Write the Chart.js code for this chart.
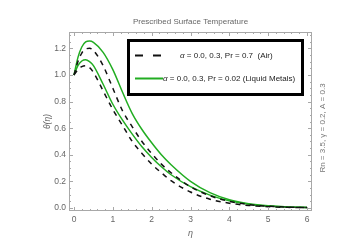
<!DOCTYPE html>
<html><head><meta charset="utf-8">
<script src="https://cdn.jsdelivr.net/npm/chart.js@4/dist/chart.umd.min.js"></script>
<style>html,body{margin:0;padding:0;background:#fff;}#wrap{width:362px;height:242px;}</style>
</head><body><div id="wrap"><canvas id="c" width="362" height="242"></canvas></div>
<script>
// ---- data ----
const eta = [0,0.1,0.2,0.3,0.4,0.5,0.75,1.0,1.25,1.5,1.75,2.0,2.25,2.5,3.0,3.5,4.0,4.5,5.0,5.5,6.0];
// Pr = 0.7 (Air), alpha = 0.0 and 0.3
const airLow  = [1.0,1.04,1.063,1.07,1.055,1.02,0.88,0.74,0.62,0.50,0.41,0.33,0.265,0.205,0.12,0.066,0.036,0.019,0.010,0.005,0.003];
const airHigh = [1.0,1.10,1.165,1.195,1.20,1.185,1.07,0.90,0.73,0.61,0.50,0.41,0.33,0.265,0.16,0.092,0.050,0.026,0.013,0.007,0.003];
// Pr = 0.02 (Liquid metals), alpha = 0.0 and 0.3
const lmLow   = [1.0,1.07,1.105,1.115,1.10,1.07,0.93,0.78,0.66,0.555,0.46,0.38,0.31,0.25,0.16,0.097,0.054,0.029,0.015,0.008,0.004];
const lmHigh  = [1.0,1.13,1.21,1.248,1.255,1.245,1.17,1.04,0.87,0.71,0.59,0.49,0.40,0.325,0.20,0.115,0.062,0.032,0.016,0.008,0.004];
const xTicks = [0,1,2,3,4,5,6];
const yTicks = [0,0.2,0.4,0.6,0.8,1.0,1.2];
const titleText = 'Prescribed Surface Temperature';
const legendAir = ['α', ' = 0.0, 0.3, Pr = 0.7  (Air)'];
const legendLM = ['α', ' = 0.0, 0.3, Pr = 0.02 (Liquid Metals)'];
const sideText = 'Rn = 3.5, γ = 0.2, A = 0.3';

const FONT = "'Liberation Sans',Arial,sans-serif";
const GREEN = '#22ad22';
const pts = arr => eta.map((e,i)=>({x:e,y:arr[i]}));

const decor = {
  id:'decor',
  afterDraw(chart){
    const ctx = chart.ctx, a = chart.chartArea;
    const xs = chart.scales.x, ys = chart.scales.y;
    ctx.save();
    // title
    ctx.fillStyle = '#666'; ctx.textAlign = 'center'; ctx.textBaseline = 'middle';
    ctx.font = '8px ' + FONT;
    ctx.fillText(titleText, (a.left + a.right)/2, 22);
    // frame
    ctx.strokeStyle = '#a8a8a8'; ctx.lineWidth = 1;
    ctx.strokeRect(Math.round(a.left)+0.5, Math.round(a.top)+0.5, Math.round(a.right-a.left)-1, Math.round(a.bottom-a.top)-1);
    // ticks (inward)
    ctx.beginPath();
    for (let v=0; v<=6.0001; v+=0.2){
      const p = Math.round(xs.getPixelForValue(v))+0.5;
      const L = Math.abs(v-Math.round(v))<1e-6 ? 4 : 2;
      ctx.moveTo(p, a.bottom); ctx.lineTo(p, a.bottom-L);
      ctx.moveTo(p, a.top); ctx.lineTo(p, a.top+L);
    }
    for (let v=0; v<=1.30001; v+=0.05){
      const p = Math.round(ys.getPixelForValue(v))+0.5;
      const L = Math.abs(v*5-Math.round(v*5))<1e-6 ? 4 : 2;
      ctx.moveTo(a.left, p); ctx.lineTo(a.left+L, p);
      ctx.moveTo(a.right, p); ctx.lineTo(a.right-L, p);
    }
    ctx.stroke();
    // legend box
    ctx.fillStyle = '#fff';
    ctx.fillRect(128.5, 40.5, 174, 54);
    ctx.strokeStyle = '#000'; ctx.lineWidth = 3;
    ctx.strokeRect(128.5, 40.5, 174, 54);
    // legend samples
    ctx.lineWidth = 2;
    ctx.strokeStyle = '#111'; ctx.setLineDash([8,10]);
    ctx.beginPath(); ctx.moveTo(135, 55.5); ctx.lineTo(163, 55.5); ctx.stroke();
    ctx.setLineDash([]);
    ctx.strokeStyle = GREEN;
    ctx.beginPath(); ctx.moveTo(135, 78.5); ctx.lineTo(163, 78.5); ctx.stroke();
    // legend texts
    ctx.fillStyle = '#222'; ctx.textBaseline = 'middle'; ctx.textAlign = 'left';
    const drawEntry = (parts, x, y) => {
      ctx.font = 'italic 8px ' + FONT;
      ctx.fillText(parts[0], x, y);
      const w = ctx.measureText(parts[0]).width;
      ctx.font = '8px ' + FONT;
      ctx.fillText(parts[1], x + w, y);
    };
    drawEntry(legendAir, 180, 56);
    drawEntry(legendLM, 163, 79);
    // side annotation
    ctx.translate(323, 128);
    ctx.rotate(-Math.PI/2);
    ctx.fillStyle = '#777'; ctx.textAlign = 'center';
    ctx.font = '8px ' + FONT;
    ctx.fillText(sideText, 0, 0);
    ctx.restore();
  }
};

const dsBase = {pointRadius:0, fill:false, cubicInterpolationMode:'monotone', borderWidth:1.5};
new Chart(document.getElementById('c'), {
  type:'line',
  data:{datasets:[
    Object.assign({label:'air α=0.0', data:pts(airLow), borderColor:'#111', borderDash:[5,5]}, dsBase),
    Object.assign({label:'air α=0.3', data:pts(airHigh), borderColor:'#111', borderDash:[5,5]}, dsBase),
    Object.assign({label:'lm α=0.0', data:pts(lmLow), borderColor:GREEN}, dsBase),
    Object.assign({label:'lm α=0.3', data:pts(lmHigh), borderColor:GREEN}, dsBase)
  ]},
  options:{
    responsive:false, devicePixelRatio:1, animation:false,
    layout:{padding:{left:0,right:50,top:32,bottom:0}},
    plugins:{
      legend:{display:false}, tooltip:{enabled:false}, title:{display:false}
    },
    scales:{
      x:{type:'linear', min:-0.129, max:6.129,
        afterBuildTicks:s=>{s.ticks = xTicks.map(v=>({value:v}));},
        afterFit:s=>{s.height = 31;},
        grid:{display:false, drawTicks:false}, border:{display:false},
        ticks:{color:'#666', font:{family:FONT,size:8.5}, padding:4, maxRotation:0, callback:v=>String(v)},
        title:{display:true, text:'η', color:'#666', font:{family:FONT,size:9,style:'italic'}, padding:{top:0,bottom:3}}
      },
      y:{type:'linear', min:-0.0226, max:1.323,
        afterBuildTicks:s=>{s.ticks = yTicks.map(v=>({value:v}));},
        afterFit:s=>{s.width = 69;},
        grid:{display:false, drawTicks:false}, border:{display:false},
        ticks:{color:'#666', font:{family:FONT,size:8.5}, padding:3, callback:v=>Number(v).toFixed(1)},
        title:{display:true, text:'θ(η)', color:'#666', font:{family:FONT,size:8.5,style:'italic'}, padding:{top:43,bottom:0}}
      }
    }
  },
  plugins:[decor]
});
</script></body></html>
